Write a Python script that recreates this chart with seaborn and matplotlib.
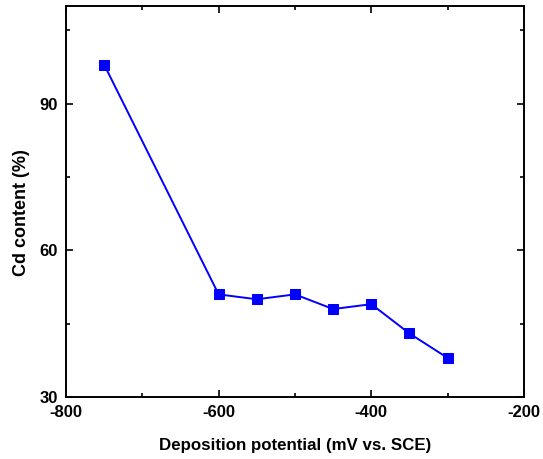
import matplotlib
matplotlib.use("Agg")
import matplotlib.pyplot as plt
import seaborn as sns
import pandas as pd
from matplotlib.ticker import MultipleLocator

potential = [-750, -600, -550, -500, -450, -400, -350, -300]
cd_content = [98, 51, 50, 51, 48, 49, 43, 38]

df = pd.DataFrame({"potential": potential, "cd": cd_content})

sns.set_style("ticks")
plt.rcParams["font.family"] = ["Liberation Sans", "DejaVu Sans"]
plt.rcParams["font.weight"] = "bold"
plt.rcParams["axes.unicode_minus"] = False
plt.rcParams["text.color"] = "black"
plt.rcParams["axes.labelcolor"] = "black"
plt.rcParams["xtick.color"] = "black"
plt.rcParams["ytick.color"] = "black"

fig = plt.figure(figsize=(5.43, 4.59), dpi=100)
ax = fig.add_axes([0.1215, 0.135, 0.965 - 0.1215, 0.987 - 0.135])

sns.lineplot(data=df, x="potential", y="cd", ax=ax, color="#0000FF",
             marker="s", markersize=7, markeredgecolor="#0000FF",
             linewidth=1.4)

ax.set_xlim(-800, -200)
ax.set_ylim(30, 110)
ax.xaxis.set_major_locator(MultipleLocator(200))
ax.xaxis.set_minor_locator(MultipleLocator(100))
ax.yaxis.set_major_locator(MultipleLocator(30))
ax.yaxis.set_minor_locator(MultipleLocator(15))

ax.tick_params(which="both", direction="in", top=True, right=True,
               width=1.2, color="black", labelcolor="black")
ax.tick_params(which="major", length=5, labelsize=12, pad=6)
ax.tick_params(which="minor", length=3)
for lab in ax.get_xticklabels() + ax.get_yticklabels():
    lab.set_fontweight("bold")

for s in ax.spines.values():
    s.set_linewidth(1.4)
    s.set_color("black")

ax.set_xlabel("Deposition potential (mV vs. SCE)", fontsize=12.2, fontweight="bold",
              color="black", labelpad=12.5)
ax.set_ylabel("Cd content (%)", fontsize=13, fontweight="bold", color="black")
ax.yaxis.set_label_coords(-0.078, 0.472)

fig.savefig("out.png", dpi=100)
